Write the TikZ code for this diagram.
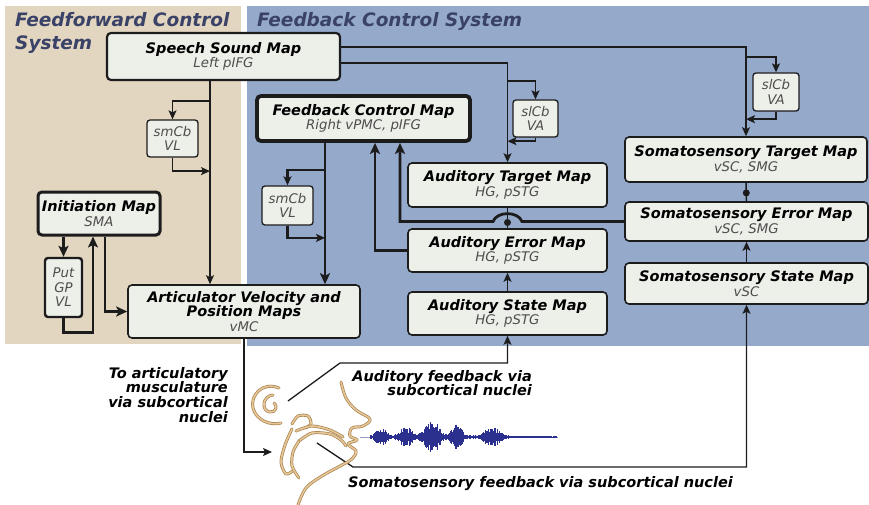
\documentclass[tikz,border=0pt]{standalone}
\usepackage{fontspec}
\setmainfont{DejaVu Sans}
\usetikzlibrary{
	positioning				% relative placement
	, arrows.meta			% Stealth tips
	, calc					% ($...$) coordinates
}

\definecolor{ffback}{HTML}{E2D6C0}
\definecolor{fbback}{HTML}{95AACB}
\definecolor{boxfill}{HTML}{EDEFE9}
\definecolor{boxedge}{HTML}{1C1C1C}
\definecolor{subgray}{HTML}{4E4E4E}
\definecolor{areatext}{HTML}{3A4268}
\definecolor{wave}{HTML}{2B2F8E}
\definecolor{headedge}{HTML}{A8844E}
\definecolor{headfill}{HTML}{E6C699}

\newcommand{\areaname}{\fontsize{18.5}{20}\selectfont\bfseries\itshape}
\newcommand{\mapname}{\fontsize{14.5}{14.5}\selectfont\bfseries\itshape}
\newcommand{\regname}{\fontsize{13.3}{14.5}\selectfont\mdseries\itshape\color{subgray}}
\newcommand{\relayname}{\fontsize{13.3}{14.5}\selectfont\mdseries\itshape\color{subgray}}

\begin{document}
\begin{tikzpicture}[
			x=1pt, y=-1pt,
			element/.style={
				rectangle,
				rounded corners=4pt,
				draw=boxedge, line width=1.6pt,
				fill=boxfill,
				inner sep=0pt,
				align=center,
				font=\mapname
			},
			bigmap/.style={
				element,
				line width=2.2pt
			},
			relay/.style={
				element,
				rounded corners=3pt,
				line width=1.3pt,
				font=\relayname
			},
			link/.style={
				draw=boxedge,
				line width=1.5pt
			},
			arrow/.style={
				link,
				-{Stealth[length=9pt, width=8pt, inset=2pt]}
			},
			heavyarrow/.style={
				link,
				line width=2.8pt,
				-{Stealth[length=11pt, width=10pt, inset=2.5pt]}
			},
			dot/.style={
				circle,
				fill=boxedge,
				inner sep=0pt,
				minimum size=7pt
			},
			caption/.style={
				inner sep=0pt,
				font=\fontsize{14.5}{14.7}\selectfont\bfseries\itshape
			},
			tract/.style={
				draw=headedge,
				line width=0.7pt,
				double=headfill,
				double distance=1.6pt,
				line cap=round, line join=round
			}]

			\path [use as bounding box, fill=white] (0,0) rectangle (869,505);

			%%% The two control systems
			\fill [ffback] (5,6) rectangle (241,344);
			\fill [fbback] (247,6) rectangle (869,346);
			\node [anchor=north west, inner sep=0pt, align=left, font=\areaname, text=areatext] (ffTitle) at (15,12) {Feedforward Control\\[3pt]System};
			\node [anchor=north west, inner sep=0pt, font=\areaname, text=areatext] (fbTitle) at (257,12) {Feedback Control System};

			%%% Maps
			\node [bigmap, minimum width=233, minimum height=47] (speech) at (223.5,56.5) {Speech Sound Map\\{\regname Left pIFG}};
			\node [element, line width=3.8pt, minimum width=213, minimum height=45] (fbctrl) at (363.5,118.5) {Feedback Control Map\\{\regname Right vPMC, pIFG}};
			\node [element, line width=3pt, minimum width=122, minimum height=43] (init) at (99,213.5) {Initiation Map\\{\regname SMA}};
			\node [element, minimum width=232, minimum height=53] (artic) at (244,311.5) {Articulator Velocity and\\Position Maps\\{\regname vMC}};

			\node [element, minimum width=199, minimum height=44] (audTarget) at (507.5,185) {Auditory Target Map\\{\regname HG, pSTG}};
			\node [element, minimum width=199, minimum height=43] (audError) at (507.5,250.5) {Auditory Error Map\\{\regname HG, pSTG}};
			\node [element, minimum width=199, minimum height=43] (audState) at (507.5,313.5) {Auditory State Map\\{\regname HG, pSTG}};

			\node [element, minimum width=242, minimum height=45] (somTarget) at (746,159.5) {Somatosensory Target Map\\{\regname vSC, SMG}};
			\node [element, minimum width=243, minimum height=39] (somError) at (746.5,221.5) {Somatosensory Error Map\\{\regname vSC, SMG}};
			\node [element, minimum width=243, minimum height=41] (somState) at (746.5,283.5) {Somatosensory State Map\\{\regname vSC}};

			%%% Cerebellar and basal ganglia relays
			\node [relay, minimum width=51, minimum height=37] (smcbFF) at (172.5,138.5) {smCb\\VL};
			\node [relay, minimum width=51, minimum height=39] (smcbFB) at (287.5,205.5) {smCb\\VL};
			\node [relay, minimum width=45, minimum height=37] (slcbAud) at (535.5,118.5) {slCb\\VA};
			\node [relay, minimum width=46, minimum height=38] (slcbSom) at (776,92) {slCb\\VA};
			\node [relay, line width=2.4pt, minimum width=37, minimum height=59] (putgp) at (63.5,287.5) {Put\\GP\\VL};

			%%% Feedforward path
			\draw [arrow] ([xshift=-13.5]speech.south) -- ([xshift=-34]artic.north);
			\draw [arrow] ($(speech.south)+(-13.5,20)$) -| (smcbFF.north);
			\draw [arrow] (smcbFF.south) |- ($(speech.south)+(-13.5,90)$);

			\draw [heavyarrow] (putgp.north |- init.south) -- (putgp.north);
			\draw [heavyarrow] (putgp.south) -- ++(0,14) -| ([xshift=-6]init.south);
			\draw [heavyarrow] ([xshift=6]init.south) |- (artic.west);

			%%% Speech sound map to the target maps
			\draw [arrow] ([yshift=9.5]speech.east) -| (somTarget.north);
			\draw [arrow] ([yshift=-6.5]speech.east) -| (audTarget.north);
			\draw [arrow] ($(somTarget.north)+(0,-79)$) -| (slcbSom.north);
			\draw [arrow] (slcbSom.south) |- ($(somTarget.north)+(0,-17)$);
			\draw [arrow] ($(audTarget.north)+(0,-81)$) -| (slcbAud.north);
			\draw [arrow] (slcbAud.south) |- ($(audTarget.north)+(0,-21)$);

			%%% Feedback path
			\draw [heavyarrow] ([xshift=-38.5]fbctrl.south) -- ([xshift=81]artic.north);
			\draw [arrow, line width=2.2pt] ($(fbctrl.south)+(-38.5,27)$) -| (smcbFB.north);
			\draw [arrow, line width=2.2pt] (smcbFB.south) |- ($(fbctrl.south)+(-38.5,95)$);

			\draw [heavyarrow] (audError.west) -| ([xshift=11.5]fbctrl.south);
			% hop over the auditory comparison
			\draw [heavyarrow] (somError.west) -- (522,221.5)
				.. controls (518,211) and (497,211) .. (493,221.5)
				-| ([xshift=36.5]fbctrl.south);

			\draw [link] (audTarget.south) -- node [dot, pos=0.72] {} (audError.north);
			\draw [link] (somTarget.south) -- node [dot, pos=0.55] {} (somError.north);
			\draw [arrow] (audState.north) -- (audError.south);
			\draw [arrow] (somState.north) -- (somError.south);

			%%% Vocal tract and sensory feedback
			\coordinate (larynx) at (272,452);
			\coordinate (ear) at (288,401);
			\coordinate (tongue) at (317,443);

			\draw [arrow, line width=1.3pt] (artic.south) |- (larynx);
			\draw [arrow, line width=1.3pt] (ear) -- (340,363) -| (audState.south);
			\draw [arrow, line width=1.3pt] (tongue) -- (353,467) -| (somState.south);

			\node [caption, anchor=north east, align=right] (toMuscles) at (228,367) {To articulatory\\musculature\\via subcortical\\nuclei};
			\node [caption, anchor=north east, align=right] (audFeedback) at (532,370) {Auditory feedback via\\subcortical nuclei};
			\node [caption, anchor=base west] (somFeedback) at (348,487) {Somatosensory feedback via subcortical nuclei};

			% ear
			\draw [tract] (279,388) .. controls (262,381) and (250,396) .. (253,408)
				.. controls (256,420) and (270,426) .. (281,423);
			\draw [tract] (273,395) .. controls (262,396) and (261,411) .. (270,412)
				.. controls (276,413) and (278,405) .. (274,403);
			% face, lips and neck
			\draw [tract] plot [smooth, tension=0.6] coordinates {
				(341,382) (346,398) (356,410) (370,419) (363,426) (352,428)
				(350,436) (357,440) (348,444) (356,451) (352,459) (342,465)
				(322,476) (306,488) (298,505)};
			% nasal cavity, palate and tongue
			\draw [tract] plot [smooth] coordinates {
				(292,424) (298,416) (308,416) (311,424) (305,428)};
			\draw [tract] plot [smooth] coordinates {
				(296,431) (312,426) (330,430) (343,437)};
			\draw [tract] plot [smooth] coordinates {
				(299,441) (312,433) (330,434) (341,440) (346,446)};
			% pharynx and larynx
			\draw [tract] plot [smooth] coordinates {
				(292,429) (285,445) (281,462) (286,474) (294,470)};
			\draw [tract] plot [smooth] coordinates {
				(299,441) (293,452) (292,466) (299,478)};

			% speech waveform
			\draw [wave!50, line width=0.4pt] (360,437) -- (558,437);
			\pgfmathsetseed{7}
			\foreach \x in {370,370.6,...,557} {
				\pgfmathsetmacro{\amp}{(1.0 + 8/(1+(min(abs(\x-381)/6,9))^4) + 8/(1+(min(abs(\x-406)/7,9))^4)
					+ 15/(1+(min(abs(\x-432)/8,9))^4) + 12/(1+(min(abs(\x-457)/6,9))^4)
					+ 8/(1+(min(abs(\x-492)/9,9))^4))*(0.45+0.55*rnd)}
				\draw [wave, line width=0.7pt] (\x,437-\amp) -- (\x,437+\amp);
			};

		\end{tikzpicture}
\end{document}
